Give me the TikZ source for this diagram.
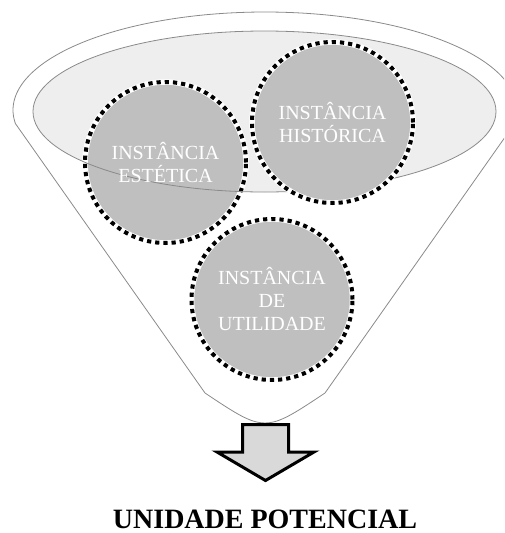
\documentclass[tikz,border=0pt]{standalone}
\usepackage{fontspec}
\setmainfont{Liberation Serif}
\definecolor{linegray}{HTML}{8A8A8A}
\definecolor{ellfill}{HTML}{EEEEEE}
\definecolor{bubblegray}{HTML}{BFBFBF}
\definecolor{arrowgray}{HTML}{D9D9D9}
\begin{document}
\begin{tikzpicture}[x=1pt,y=-1pt,
  outline/.style={draw=linegray, line width=0.8pt},
  bubble/.style={circle, minimum size=161pt, inner sep=0pt, fill=bubblegray,
    draw=white, line width=5.5pt,
    postaction={draw=black, line width=4pt, dash pattern=on 4.2pt off 4pt}},
  bubbletext/.style={text=white, align=center, font=\fontsize{20}{23}\selectfont},
  titletext/.style={font=\bfseries\fontsize{28}{32}\selectfont, text=black}]
\useasboundingbox (0,0) rectangle (504,533);
\clip (0,0) rectangle (504,533);

% funnel outer outline
\draw[outline, line join=round] plot[domain=188:-8, samples=150] ({265+252*cos(\x)},{110-98*sin(\x)})
  -- (325,393) .. controls (265,433) .. (205,393) -- cycle;

% inner ellipse fill
\fill[ellfill] (264.5,111.5) ellipse [x radius=231.5pt, y radius=80.5pt];

% aesthetic bubble (under the ellipse rim)
\node[bubble] (est) at (165.5,162.5) {};

% ellipse rim
\draw[outline] (264.5,111.5) ellipse [x radius=231.5pt, y radius=80.5pt];

\node[bubbletext] (esttext) at (est.center) {INSTÂNCIA\\ESTÉTICA};

\node[bubble] (hist) at (332.5,122.5) {};
\node[bubbletext] (histtext) at (hist.center) {INSTÂNCIA\\HISTÓRICA};

\node[bubble] (util) at (272,299.5) {};
\node[bubbletext] (utiltext) at (util.center) {INSTÂNCIA\\DE\\UTILIDADE};

% down arrow
\draw[line width=3pt, fill=arrowgray, line join=miter]
  (242.5,424.5) -- (288.5,424.5) -- (288.5,452) -- (314,452) -- (265.5,480.5)
  -- (217,452) -- (242.5,452) -- cycle;

\node[titletext, anchor=base] (title) at (265,528) {UNIDADE POTENCIAL};
\end{tikzpicture}
\end{document}
